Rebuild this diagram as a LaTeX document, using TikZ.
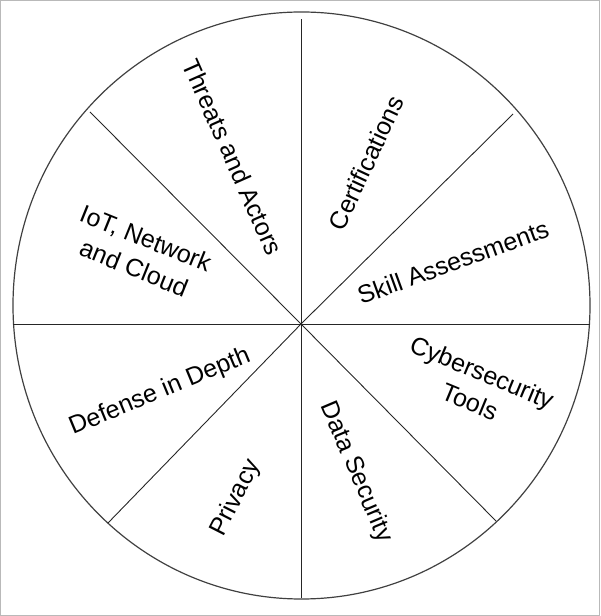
\documentclass[tikz,border=0pt]{standalone}
\usepackage{fontspec}
\setmainfont{Liberation Sans}
\usepackage{tikz}
\usetikzlibrary{positioning}

\begin{document}
\begin{tikzpicture}[x=1pt, y=1pt,
    spoke/.style={line width=0.9pt, draw=black!85},
    sector/.style={font=\fontsize{25}{32}\selectfont, align=center, inner sep=0pt}]
            \useasboundingbox (0, 0) rectangle (600, 616);
            \draw[gray!55, line width=1pt] (0.5, 0.5) rectangle (599.5, 615.5);

            \coordinate (c) at (301, 292);
            \coordinate (n) at (301, 597);
            \coordinate (s) at (301, 18);
            \coordinate (w) at (13, 292);
            \coordinate (e) at (590, 292);
            \coordinate (nw) at (90, 504);
            \coordinate (ne) at (513, 502);
            \coordinate (sw) at (108, 93);
            \coordinate (se) at (496, 95);

            \draw[line width=1.2pt, draw=black!75] (301.5, 310.5) ellipse (288.5 and 293.5);
            \draw[spoke] (c) -- (n);
            \draw[spoke] (c) -- (s);
            \draw[spoke] (c) -- (w);
            \draw[spoke] (c) -- (e);
            \draw[spoke] (c) -- (nw);
            \draw[spoke] (c) -- (ne);
            \draw[spoke] (c) -- (sw);
            \draw[spoke] (c) -- (se);

            \node[sector, rotate=-66] (threats) at (233, 459) {Threats and Actors};
            \node[sector, rotate=65] (certs) at (366, 453) {Certifications};
            \node[sector, rotate=20] (skills) at (453, 354) {Skill Assessments};
            \node[sector, rotate=-22.5] (tools) at (476, 229) {Cybersecurity\\Tools};
            \node[sector, rotate=-67] (data) at (356, 144) {Data Security};
            \node[sector, rotate=63] (privacy) at (236, 118) {Privacy};
            \node[sector, rotate=22.5] (defense) at (160, 224) {Defense in Depth};
            \node[sector, rotate=-22] (iot) at (140, 363) {IoT, Network\\and Cloud};
        \end{tikzpicture}
\end{document}
